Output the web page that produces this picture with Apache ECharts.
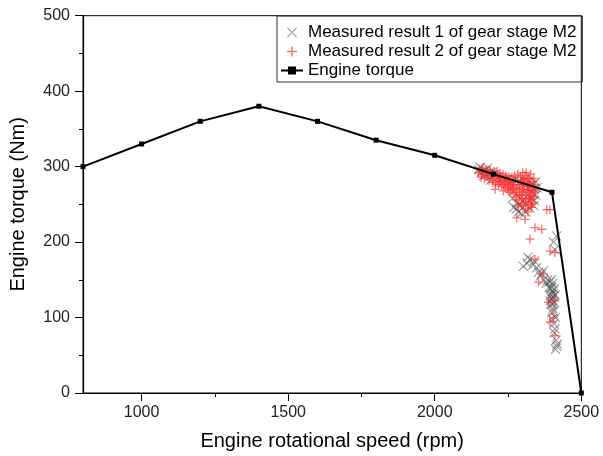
<!DOCTYPE html>
<html>
<head>
<meta charset="utf-8">
<script src="https://cdn.jsdelivr.net/npm/echarts@6/dist/echarts.min.js"></script>
<style>
  html, body { margin: 0; padding: 0; background: #fff; }
  #chart { width: 603px; height: 456px; }
</style>
</head>
<body>
<div id="chart"></div>
<script>
// engine torque curve
const torqueSpeed = [800, 1000, 1200, 1400, 1600, 1800, 2000, 2200, 2400, 2500]
const torqueValues = [300, 330, 360, 380, 360, 335, 315, 290, 266, 0]

// measured points [rpm, Nm]
const measured1 = [
  [2150, 296], [2160, 293], [2170, 295], [2175, 290], [2185, 292], [2195, 288], [2205, 290],
  [2215, 286], [2230, 285], [2245, 283], [2260, 281], [2275, 283], [2290, 280], [2305, 282],
  [2320, 279], [2335, 276], [2340, 270], [2335, 264], [2330, 258], [2320, 262], [2300, 255],
  [2290, 260], [2280, 252], [2270, 246], [2285, 240], [2295, 238], [2310, 250], [2325, 245],
  [2340, 255], [2416, 208], [2410, 190], [2405, 200], [2325, 177], [2302, 168], [2315, 172],
  [2348, 166], [2335, 170], [2365, 158], [2372, 150], [2380, 145], [2393, 147], [2398, 140],
  [2402, 135], [2405, 128], [2395, 130], [2400, 124], [2408, 120], [2396, 118], [2403, 112],
  [2399, 107], [2410, 85], [2406, 92], [2416, 62], [2412, 58], [2418, 65],
  [2155, 299], [2165, 288], [2180, 298], [2190, 282], [2200, 294], [2345, 280], [2348, 272],
  [2345, 262], [2338, 248], [2300, 245], [2290, 250], [2265, 258], [2278, 244], [2310, 240],
  [2398, 150], [2402, 145], [2390, 140], [2395, 138], [2404, 132], [2408, 138], [2398, 126],
  [2410, 130], [2402, 118], [2394, 122], [2406, 108], [2400, 98], [2412, 100], [2414, 70],
  [2408, 80], [2354, 160], [2360, 155], [2385, 150], [2370, 162], [2318, 180], [2340, 175]
]
const measured2 = [
  [2150, 292], [2160, 290], [2165, 294], [2175, 288], [2180, 292], [2190, 286], [2195, 290],
  [2200, 284], [2210, 288], [2215, 282], [2220, 286], [2225, 280], [2230, 284], [2240, 278],
  [2245, 283], [2250, 276], [2255, 281], [2260, 274], [2265, 279], [2270, 272], [2275, 282],
  [2280, 270], [2285, 276], [2290, 268], [2295, 280], [2300, 266], [2305, 274], [2310, 262],
  [2315, 278], [2320, 258], [2322, 285], [2325, 268], [2330, 262], [2335, 274], [2300, 258],
  [2290, 262], [2280, 256], [2312, 254], [2328, 250], [2318, 284], [2308, 288], [2298, 276],
  [2270, 264], [2260, 268], [2250, 270], [2240, 272],
  [2152, 297], [2158, 286], [2163, 298], [2170, 284], [2178, 296], [2185, 282], [2188, 295],
  [2198, 279], [2203, 294], [2208, 277], [2212, 292], [2218, 276], [2223, 291], [2228, 274],
  [2233, 290], [2238, 281], [2243, 288], [2248, 273], [2253, 287], [2258, 279], [2263, 286],
  [2268, 276], [2273, 288], [2278, 266], [2283, 290], [2288, 272], [2293, 286], [2296, 263],
  [2300, 292], [2303, 270], [2306, 284], [2309, 258], [2312, 292], [2314, 268], [2317, 274],
  [2319, 248], [2321, 266], [2323, 278], [2326, 256], [2327, 290], [2329, 272], [2332, 280],
  [2334, 252], [2336, 266], [2338, 284], [2340, 260], [2342, 276], [2344, 268], [2310, 244],
  [2318, 240], [2296, 250], [2286, 248], [2300, 282], [2320, 270], [2330, 246], [2275, 260],
  [2265, 270], [2255, 266], [2220, 280], [2235, 276],
  [2206, 270], [2234, 268], [2302, 252], [2331, 257], [2382, 243], [2393, 243], [2280, 232],
  [2308, 230], [2342, 219], [2365, 217], [2325, 204], [2393, 188], [2410, 186], [2342, 177],
  [2370, 158], [2354, 147], [2388, 120], [2410, 122], [2405, 100], [2393, 94], [2410, 76]
]

const xTickValues = [1000, 1500, 2000, 2500]
const xMinorTicks = [1250, 1750, 2250]

const font = 'Liberation Sans'
const plusPath = 'path://M0,4.3H10V5.7H0Z M4.3,0H5.7V10H4.3Z'
const crossPath = 'path://M0,0.8L0.8,0L10,9.2L9.2,10Z M9.2,0L10,0.8L0.8,10L0,9.2Z'

const chart = echarts.init(document.getElementById('chart'))
chart.setOption({
  animation: false,
  textStyle: { fontFamily: font },
  grid: {
    left: 82.5,
    right: 21.7,
    top: 15.7,
    bottom: 61.7,
    show: true,
    borderColor: '#000',
    borderWidth: 1
  },
  legend: {
    orient: 'vertical',
    left: 277,
    top: 16,
    padding: [8, 6, 3, 3],
    itemGap: 2,
    itemWidth: 22,
    itemHeight: 10,
    borderColor: '#333',
    borderWidth: 1,
    textStyle: { fontFamily: font, fontSize: 17, color: '#000' },
    data: ['Measured result 1 of gear stage M2', 'Measured result 2 of gear stage M2', 'Engine torque']
  },
  xAxis: [{
    type: 'value',
    min: 800,
    max: 2500,
    name: 'Engine rotational speed (rpm)',
    nameLocation: 'middle',
    nameGap: 38,
    nameTextStyle: { fontFamily: font, fontSize: 20, color: '#000' },
    axisLine: { lineStyle: { color: '#000', width: 1.2 } },
    axisTick: { customValues: xTickValues, length: 8, lineStyle: { color: '#000' } },
    axisLabel: {
      customValues: xTickValues,
      margin: 12,
      fontSize: 16,
      color: '#222',
      formatter: (v) => String(v)
    },
    splitLine: { show: false }
  }, {
    type: 'value',
    min: 800,
    max: 2500,
    position: 'bottom',
    axisLine: { show: false },
    axisTick: { customValues: xMinorTicks, length: 4, lineStyle: { color: '#000' } },
    axisLabel: { show: false },
    splitLine: { show: false }
  }],
  yAxis: {
    type: 'value',
    min: 0,
    max: 500,
    interval: 100,
    name: 'Engine torque (Nm)',
    nameLocation: 'middle',
    nameGap: 55,
    nameTextStyle: { fontFamily: font, fontSize: 20, color: '#000' },
    axisLine: { show: true, lineStyle: { color: '#000', width: 1.2 } },
    axisTick: { show: true, length: 8, lineStyle: { color: '#000' } },
    minorTick: { show: true, splitNumber: 2, length: 4, lineStyle: { color: '#000' } },
    axisLabel: { margin: 13, fontSize: 16, color: '#222' },
    splitLine: { show: false }
  },
  series: [{
    name: 'Measured result 1 of gear stage M2',
    type: 'scatter',
    symbol: crossPath,
    symbolSize: 10,
    itemStyle: { color: 'rgba(80, 80, 80, 0.7)' },
    data: measured1
  }, {
    name: 'Measured result 2 of gear stage M2',
    type: 'scatter',
    symbol: plusPath,
    symbolSize: 9,
    itemStyle: { color: 'rgba(250, 45, 45, 0.85)' },
    data: measured2
  }, {
    name: 'Engine torque',
    type: 'line',
    z: 5,
    symbol: 'rect',
    symbolSize: 5,
    lineStyle: { color: '#000', width: 2 },
    itemStyle: { color: '#000' },
    data: torqueSpeed.map((s, i) => [s, torqueValues[i]])
  }]
})
</script>
</body>
</html>
